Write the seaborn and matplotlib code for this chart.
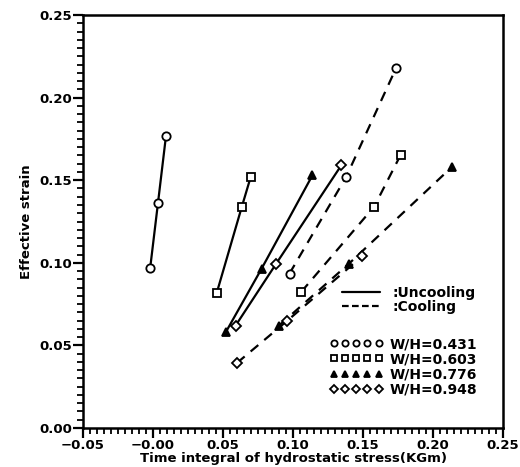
import matplotlib
matplotlib.use("Agg")
import matplotlib.pyplot as plt
import seaborn as sns
import pandas as pd
from matplotlib.lines import Line2D
from matplotlib.ticker import FixedLocator, FixedFormatter, MultipleLocator

# ---- data ----
ratios = ["W/H=0.431", "W/H=0.603", "W/H=0.776", "W/H=0.948"]

unc_x_0431 = [-0.002, 0.0036, 0.0093]
unc_y_0431 = [0.097, 0.1365, 0.177]
unc_x_0603 = [0.0456, 0.0633, 0.0698]
unc_y_0603 = [0.082, 0.1335, 0.152]
unc_x_0776 = [0.052, 0.0776, 0.1139]
unc_y_0776 = [0.058, 0.0965, 0.153]
unc_x_0948 = [0.059, 0.088, 0.1345]
unc_y_0948 = [0.062, 0.0995, 0.159]

cool_x_0431 = [0.0975, 0.138, 0.1737]
cool_y_0431 = [0.0935, 0.152, 0.218]
cool_x_0603 = [0.106, 0.158, 0.177]
cool_y_0603 = [0.0825, 0.134, 0.1655]
cool_x_0776 = [0.090, 0.140, 0.2135]
cool_y_0776 = [0.062, 0.0995, 0.158]
cool_x_0948 = [0.060, 0.096, 0.1495]
cool_y_0948 = [0.0394, 0.065, 0.104]

x_ticks = [-0.05, 0.0, 0.05, 0.10, 0.15, 0.20, 0.25]
x_tick_labels = ["\u22120.05", "\u22120.00", "0.05", "0.10", "0.15", "0.20", "0.25"]
y_ticks = [0.0, 0.05, 0.10, 0.15, 0.20, 0.25]
y_tick_labels = ["0.00", "0.05", "0.10", "0.15", "0.20", "0.25"]

rows = []
for cond, sets in [("Uncooling", [(unc_x_0431, unc_y_0431), (unc_x_0603, unc_y_0603),
                                  (unc_x_0776, unc_y_0776), (unc_x_0948, unc_y_0948)]),
                   ("Cooling", [(cool_x_0431, cool_y_0431), (cool_x_0603, cool_y_0603),
                                (cool_x_0776, cool_y_0776), (cool_x_0948, cool_y_0948)])]:
    for r, (xs, ys) in zip(ratios, sets):
        for xv, yv in zip(xs, ys):
            rows.append({"cond": cond, "ratio": r, "x": xv, "y": yv})
df = pd.DataFrame(rows)

# ---- styling ----
sns.set_theme(style="ticks")
plt.rcParams["font.family"] = ["DejaVu Sans"]
plt.rcParams["font.weight"] = "bold"
plt.rcParams["text.color"] = "black"
plt.rcParams["axes.labelcolor"] = "black"
plt.rcParams["xtick.color"] = "black"
plt.rcParams["ytick.color"] = "black"

marker_map = {"W/H=0.431": "o", "W/H=0.603": "s", "W/H=0.776": "^", "W/H=0.948": "D"}
face_map = {"W/H=0.431": "white", "W/H=0.603": "white", "W/H=0.776": "black", "W/H=0.948": "white"}
size_map = {"W/H=0.431": 6, "W/H=0.603": 5.5, "W/H=0.776": 6, "W/H=0.948": 5}

fig = plt.figure(figsize=(5.2, 4.67), dpi=100)
ax = fig.add_axes([83 / 520, 1 - 428 / 467, 420 / 520, 413 / 467])

for (cond, r), g in df.groupby(["cond", "ratio"], sort=False):
    ls = (0, (4.5, 3.5)) if cond == "Cooling" else "-"
    sns.lineplot(data=g, x="x", y="y", ax=ax, legend=False, sort=False,
                 color="black", linewidth=1.6, linestyle=ls,
                 marker=marker_map[r], markersize=size_map[r],
                 markerfacecolor=face_map[r], markeredgecolor="black", markeredgewidth=1.3)

ax.set_xlim(-0.05, 0.25)
ax.set_ylim(0.0, 0.25)
ax.xaxis.set_major_locator(FixedLocator(x_ticks))
ax.xaxis.set_major_formatter(FixedFormatter(x_tick_labels))
ax.yaxis.set_major_locator(FixedLocator(y_ticks))
ax.yaxis.set_major_formatter(FixedFormatter(y_tick_labels))
ax.xaxis.set_minor_locator(MultipleLocator(0.005))
ax.yaxis.set_minor_locator(MultipleLocator(0.005))
ax.tick_params(which="major", direction="out", length=7, width=1.6, labelsize=9.5, pad=1,
               colors="black")
ax.tick_params(which="minor", direction="out", length=4, width=1.3, colors="black")
for lab in ax.get_xticklabels() + ax.get_yticklabels():
    lab.set_fontweight("bold")
for sp in ax.spines.values():
    sp.set_linewidth(1.8)
    sp.set_color("black")
    sp.set_visible(True)

ax.set_xlabel("Time integral of hydrostatic stress(KGm)", fontsize=9.5, fontweight="bold",
              labelpad=0, color="black")
ax.set_ylabel("Effective strain", fontsize=9.5, fontweight="bold", labelpad=4, color="black")

# line style legend
style_handles = [Line2D([], [], color="black", linewidth=1.6),
                 Line2D([], [], color="black", linewidth=1.6, dashes=(3, 1.5))]
leg1 = ax.legend(style_handles, [":Uncooling", ":Cooling"], loc="upper left",
                 bbox_to_anchor=(0.617, 0.345), frameon=False, handlelength=2.7,
                 handletextpad=0.9, labelspacing=0.05, borderpad=0, borderaxespad=0,
                 prop={"size": 10, "weight": "bold"}, labelcolor="black")
ax.add_artist(leg1)

# marker legend
marker_handles = [Line2D([], [], linestyle="none", marker=marker_map[r], markersize=4.5,
                         markerfacecolor="white", markeredgecolor="black", markeredgewidth=1.3)
                  for r in ratios]
marker_handles[2].set_markerfacecolor("black")
ax.legend(marker_handles, ratios, loc="upper left", bbox_to_anchor=(0.588, 0.22),
          frameon=False, numpoints=5, handlelength=3.8, handletextpad=0.5,
          labelspacing=0.08, borderpad=0, borderaxespad=0,
          prop={"size": 10, "weight": "bold"}, labelcolor="black")

fig.savefig("out.png", dpi=100)
